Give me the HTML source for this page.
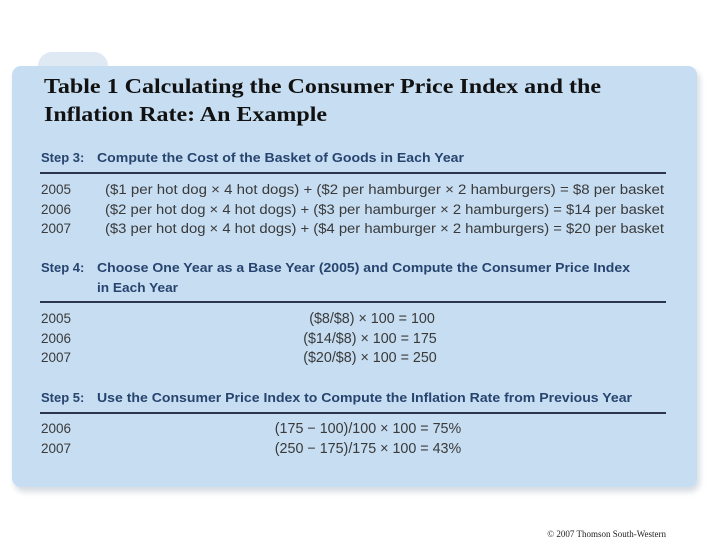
<!DOCTYPE html>
<html><head><meta charset="utf-8"><style>
html,body{margin:0;padding:0;background:#fff;width:720px;height:540px;overflow:hidden}
svg{display:block}
.t{font-family:"Liberation Serif",serif;font-weight:bold;font-size:21px;fill:#111}
.h{font-family:"Liberation Sans",sans-serif;font-weight:bold;font-size:13px;fill:#27446f}
.r{font-family:"Liberation Sans",sans-serif;font-size:13.5px;fill:#3a3a3a}
.c{font-family:"Liberation Sans",sans-serif;font-size:14.3px;fill:#3a3a3a}
</style></head><body>
<svg width="720" height="540" viewBox="0 0 720 540">
<defs><filter id="sh" x="-5%" y="-5%" width="110%" height="115%"><feGaussianBlur stdDeviation="3"/></filter></defs>
<rect x="14" y="70" width="686" height="422" rx="10" fill="#d8dde3" filter="url(#sh)"/>
<rect x="38" y="52" width="70" height="30" rx="14" fill="#dfe9f4"/>
<rect x="12" y="66" width="685" height="421" rx="9" fill="#c6ddf2"/>
<text class="t" x="44" y="93" textLength="557" lengthAdjust="spacingAndGlyphs">Table 1 Calculating the Consumer Price Index and the</text>
<text class="t" x="44" y="121" textLength="283" lengthAdjust="spacingAndGlyphs">Inflation Rate: An Example</text>

<text class="h" x="41" y="162">Step 3:</text>
<text class="h" x="97" y="162" textLength="367" lengthAdjust="spacingAndGlyphs">Compute the Cost of the Basket of Goods in Each Year</text>
<rect x="40" y="172" width="626" height="2" fill="#2b3550"/>
<g>
<text class="r" x="41" y="194">2005</text><text class="r" x="105" y="194" textLength="559" lengthAdjust="spacingAndGlyphs">($1 per hot dog × 4 hot dogs) + ($2 per hamburger × 2 hamburgers) = $8 per basket</text>
<text class="r" x="41" y="214">2006</text><text class="r" x="105" y="214" textLength="559" lengthAdjust="spacingAndGlyphs">($2 per hot dog × 4 hot dogs) + ($3 per hamburger × 2 hamburgers) = $14 per basket</text>
<text class="r" x="41" y="233">2007</text><text class="r" x="105" y="233" textLength="559" lengthAdjust="spacingAndGlyphs">($3 per hot dog × 4 hot dogs) + ($4 per hamburger × 2 hamburgers) = $20 per basket</text>
</g>

<text class="h" x="41" y="272">Step 4:</text>
<text class="h" x="97" y="272" textLength="533" lengthAdjust="spacingAndGlyphs">Choose One Year as a Base Year (2005) and Compute the Consumer Price Index</text>
<text class="h" x="97" y="292" textLength="81" lengthAdjust="spacingAndGlyphs">in Each Year</text>
<rect x="40" y="301" width="626" height="2" fill="#2b3550"/>
<g>
<text class="r" x="41" y="323">2005</text><text class="c" x="372" y="323" text-anchor="middle">($8/$8) × 100 = 100</text>
<text class="r" x="41" y="343">2006</text><text class="c" x="370" y="343" text-anchor="middle">($14/$8) × 100 = 175</text>
<text class="r" x="41" y="362">2007</text><text class="c" x="370" y="362" text-anchor="middle">($20/$8) × 100 = 250</text>
</g>

<text class="h" x="41" y="402">Step 5:</text>
<text class="h" x="97" y="402" textLength="535" lengthAdjust="spacingAndGlyphs">Use the Consumer Price Index to Compute the Inflation Rate from Previous Year</text>
<rect x="40" y="412" width="626" height="2" fill="#2b3550"/>
<g>
<text class="r" x="41" y="433">2006</text><text class="c" x="368" y="433" text-anchor="middle">(175 − 100)/100 × 100 = 75%</text>
<text class="r" x="41" y="453">2007</text><text class="c" x="368" y="453" text-anchor="middle">(250 − 175)/175 × 100 = 43%</text>
</g>

<text x="666" y="537" text-anchor="end" font-family="Liberation Serif,serif" font-size="9" fill="#222">© 2007 Thomson South-Western</text>
</svg>
</body></html>
